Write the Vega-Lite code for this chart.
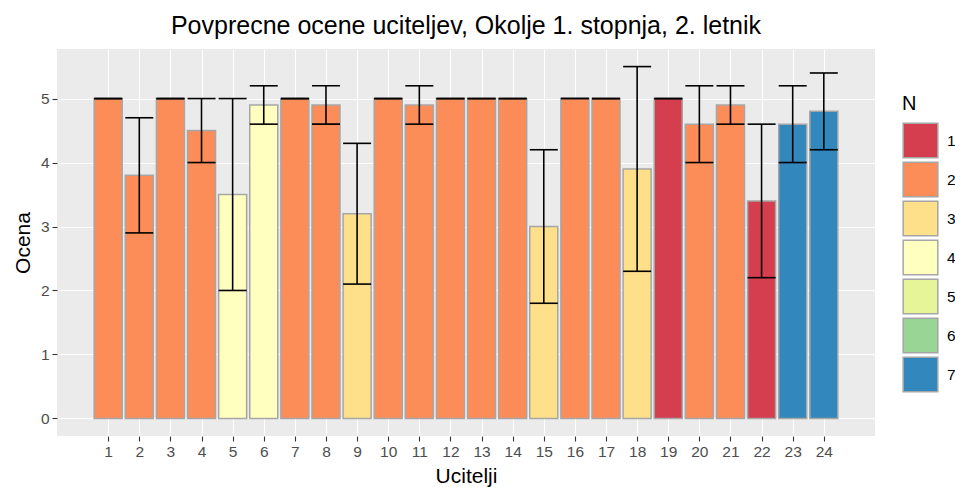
{
  "$schema": "https://vega.github.io/schema/vega-lite/v6.json",
  "width": 818,
  "height": 387,
  "autosize": "none",
  "padding": {"left": 57, "top": 49, "right": 80, "bottom": 52},
  "background": "white",
  "title": {
    "text": "Povprecne ocene uciteljev, Okolje 1. stopnja, 2. letnik",
    "font": "Liberation Sans",
    "fontSize": 25,
    "fontWeight": "normal",
    "color": "#000000",
    "anchor": "middle",
    "offset": 10
  },
  "config": {
    "view": {"fill": "#EBEBEB", "stroke": null},
    "font": "Liberation Sans",
    "axis": {
      "gridColor": "#FFFFFF",
      "gridWidth": 1.1,
      "domain": false,
      "tickColor": "#333333",
      "tickWidth": 1.1,
      "tickSize": 5,
      "labelColor": "#4D4D4D",
      "labelFontSize": 15.5,
      "labelFont": "Liberation Sans",
      "labelPadding": 3,
      "titleFont": "Liberation Sans",
      "titleFontSize": 21,
      "titleFontWeight": "normal",
      "titleColor": "#000000"
    }
  },
  "data": {
    "values": [
      {"Ucitelj": 1, "Ocena": 5.0, "lo": 5.0, "hi": 5.0, "N": "2"},
      {"Ucitelj": 2, "Ocena": 3.8, "lo": 2.9, "hi": 4.7, "N": "2"},
      {"Ucitelj": 3, "Ocena": 5.0, "lo": 5.0, "hi": 5.0, "N": "2"},
      {"Ucitelj": 4, "Ocena": 4.5, "lo": 4.0, "hi": 5.0, "N": "2"},
      {"Ucitelj": 5, "Ocena": 3.5, "lo": 2.0, "hi": 5.0, "N": "4"},
      {"Ucitelj": 6, "Ocena": 4.9, "lo": 4.6, "hi": 5.2, "N": "4"},
      {"Ucitelj": 7, "Ocena": 5.0, "lo": 5.0, "hi": 5.0, "N": "2"},
      {"Ucitelj": 8, "Ocena": 4.9, "lo": 4.6, "hi": 5.2, "N": "2"},
      {"Ucitelj": 9, "Ocena": 3.2, "lo": 2.1, "hi": 4.3, "N": "3"},
      {"Ucitelj": 10, "Ocena": 5.0, "lo": 5.0, "hi": 5.0, "N": "2"},
      {"Ucitelj": 11, "Ocena": 4.9, "lo": 4.6, "hi": 5.2, "N": "2"},
      {"Ucitelj": 12, "Ocena": 5.0, "lo": 5.0, "hi": 5.0, "N": "2"},
      {"Ucitelj": 13, "Ocena": 5.0, "lo": 5.0, "hi": 5.0, "N": "2"},
      {"Ucitelj": 14, "Ocena": 5.0, "lo": 5.0, "hi": 5.0, "N": "2"},
      {"Ucitelj": 15, "Ocena": 3.0, "lo": 1.8, "hi": 4.2, "N": "3"},
      {"Ucitelj": 16, "Ocena": 5.0, "lo": 5.0, "hi": 5.0, "N": "2"},
      {"Ucitelj": 17, "Ocena": 5.0, "lo": 5.0, "hi": 5.0, "N": "2"},
      {"Ucitelj": 18, "Ocena": 3.9, "lo": 2.3, "hi": 5.5, "N": "3"},
      {"Ucitelj": 19, "Ocena": 5.0, "lo": 5.0, "hi": 5.0, "N": "1"},
      {"Ucitelj": 20, "Ocena": 4.6, "lo": 4.0, "hi": 5.2, "N": "2"},
      {"Ucitelj": 21, "Ocena": 4.9, "lo": 4.6, "hi": 5.2, "N": "2"},
      {"Ucitelj": 22, "Ocena": 3.4, "lo": 2.2, "hi": 4.6, "N": "1"},
      {"Ucitelj": 23, "Ocena": 4.6, "lo": 4.0, "hi": 5.2, "N": "7"},
      {"Ucitelj": 24, "Ocena": 4.8, "lo": 4.2, "hi": 5.4, "N": "7"}
    ]
  },
  "layer": [
    {
      "mark": {"type": "bar", "size": 28, "stroke": "#A6A6A6", "strokeWidth": 1.5, "opacity": 1},
      "encoding": {
        "x": {
          "field": "Ucitelj", "type": "quantitative",
          "scale": {"domain": [-0.645, 25.645], "nice": false, "zero": false, "padding": 0},
          "axis": {
            "title": "Ucitelji",
            "values": [1,2,3,4,5,6,7,8,9,10,11,12,13,14,15,16,17,18,19,20,21,22,23,24],
            "labelFlush": false,
            "titlePadding": 6
          }
        },
        "y": {
          "field": "Ocena", "type": "quantitative",
          "scale": {"domain": [-0.275, 5.775], "nice": false, "zero": false, "padding": 0},
          "axis": {
            "title": "Ocena",
            "values": [0, 1, 2, 3, 4, 5],
            "labelFlush": false,
            "titlePadding": 7
          }
        },
        "color": {
          "field": "N", "type": "nominal",
          "scale": {
            "domain": ["1", "2", "3", "4", "5", "6", "7"],
            "range": ["#D53E4F", "#FC8D59", "#FEE08B", "#FFFFBF", "#E6F598", "#99D594", "#3288BD"]
          },
          "legend": {
            "title": "N",
            "orient": "none",
            "legendX": 845,
            "legendY": 45,
            "titleFontSize": 20,
            "titleFontWeight": "normal",
            "titleColor": "#000000",
            "titlePadding": 8,
            "symbolType": "square",
            "symbolSize": 1200,
            "symbolStrokeColor": "#A6A6A6",
            "symbolStrokeWidth": 1.5,
            "symbolOpacity": 1,
            "labelFontSize": 15.5,
            "labelColor": "#000000",
            "labelOffset": 8,
            "rowPadding": -3.5,
            "padding": 0
          }
        }
      }
    },
    {
      "mark": {"type": "rule", "color": "#000000", "strokeWidth": 1.6},
      "encoding": {
        "x": {
          "field": "Ucitelj", "type": "quantitative",
          "axis": {
            "orient": "top",
            "values": [0.5,1.5,2.5,3.5,4.5,5.5,6.5,7.5,8.5,9.5,10.5,11.5,12.5,13.5,14.5,15.5,16.5,17.5,18.5,19.5,20.5,21.5,22.5,23.5,24.5],
            "labels": false, "ticks": false, "domain": false, "title": null,
            "gridWidth": 0.55, "gridColor": "#FFFFFF"
          }
        },
        "y": {
          "field": "lo", "type": "quantitative",
          "axis": {
            "orient": "right",
            "values": [0.5, 1.5, 2.5, 3.5, 4.5, 5.5],
            "labels": false, "ticks": false, "domain": false, "title": null,
            "gridWidth": 0.55, "gridColor": "#FFFFFF"
          }
        },
        "y2": {"field": "hi"}
      }
    },
    {
      "mark": {"type": "tick", "orient": "horizontal", "size": 28, "thickness": 1.6, "color": "#000000", "opacity": 1},
      "encoding": {
        "x": {"field": "Ucitelj", "type": "quantitative", "axis": null},
        "y": {"field": "lo", "type": "quantitative", "axis": null}
      }
    },
    {
      "mark": {"type": "tick", "orient": "horizontal", "size": 28, "thickness": 1.6, "color": "#000000", "opacity": 1},
      "encoding": {
        "x": {"field": "Ucitelj", "type": "quantitative", "axis": null},
        "y": {"field": "hi", "type": "quantitative", "axis": null}
      }
    }
  ],
  "resolve": {"axis": {"x": "independent", "y": "independent"}}
}
